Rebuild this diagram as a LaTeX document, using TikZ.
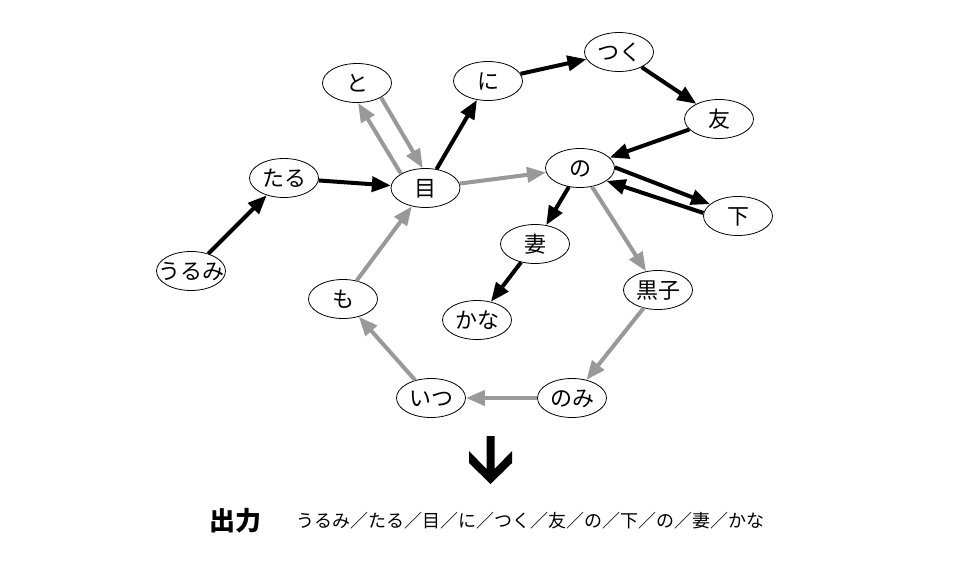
\documentclass[tikz,border=0pt]{standalone}
\usepackage{fontspec}
\usetikzlibrary{shapes.geometric,arrows.meta}
\newfontfamily\cjk{Noto Sans CJK JP}
\definecolor{edgegray}{RGB}{153,153,153}
\newcommand{\nodefnt}{\cjk\fontsize{22}{26}\selectfont}
\newcommand{\nt}[1]{\makebox[0pt]{#1}}
\tikzset{
  wnode/.style={draw, ellipse, line width=0.8pt, minimum width=69pt, minimum height=39pt,
    inner sep=0pt, font=\nodefnt, text height=19.4pt, text depth=2.6pt},
  bedge/.style={line width=4pt, black, -{Triangle[length=19pt,width=15pt]}},
  gedge/.style={line width=4pt, edgegray, -{Triangle[length=19pt,width=15pt]}},
}
\begin{document}
\begin{tikzpicture}[x=1pt,y=-1pt]
\path[use as bounding box] (0,0) rectangle (960,560);
\node[wnode] (urumi) at (191,271) {\nt{うるみ}};
\node[wnode] (taru) at (284,178) {\nt{たる}};
\node[wnode] (to) at (357,83) {\nt{と}};
\node[wnode] (me) at (425.5,188) {\nt{目}};
\node[wnode] (ni) at (488,81) {\nt{に}};
\node[wnode] (tsuku) at (619,52) {\nt{つく}};
\node[wnode] (tomo) at (719,119) {\nt{友}};
\node[wnode] (no) at (580,168) {\nt{の}};
\node[wnode] (shita) at (738,216) {\nt{下}};
\node[wnode] (tsuma) at (535,244) {\nt{妻}};
\node[wnode] (kana) at (477,320) {\nt{かな}};
\node[wnode] (hokuro) at (658,290) {\nt{黒子}};
\node[wnode] (nomi) at (572,398) {\nt{のみ}};
\node[wnode] (itsu) at (431,398) {\nt{いつ}};
\node[wnode] (mo) at (343,299) {\nt{も}};

\draw[bedge] (urumi) -- (taru);
\draw[bedge] (taru) -- (me);
\draw[gedge] (me.150.5) -- (to.-87);
\draw[gedge] (to.-31) -- (me.98.5);
\draw[bedge] (me) -- (ni);
\draw[bedge] (ni) -- (tsuku);
\draw[bedge] (tsuku) -- (tomo);
\draw[bedge] (tomo) -- (no);
\draw[gedge] (me) -- (no);
\draw[bedge] (no.1.6) -- (shita.157.7);
\draw[bedge] (shita.175) -- (no.-26.7);
\draw[bedge] (no) -- (tsuma);
\draw[bedge] (tsuma) -- (kana);
\draw[gedge] (no) -- (hokuro);
\draw[gedge] (hokuro) -- (nomi);
\draw[gedge] (nomi) -- (itsu);
\draw[gedge] (itsu) -- (mo);
\draw[gedge] (mo) -- (me);

\fill[black] (486.5,436) -- (494.5,436) -- (494.5,469) -- (512,451) -- (512,463)
  -- (490.5,484) -- (469,463) -- (469,451) -- (486.5,469) -- cycle;

\node[anchor=base, font=\cjk\bfseries\fontsize{26}{30}\selectfont, inner sep=0pt] (outlabel) at (235.5,530) {出力};
\node[anchor=base west, font=\cjk\fontsize{18}{22}\selectfont, inner sep=0pt] (outtext) at (296,527)
  {うるみ／たる／目／に／つく／友／の／下／の／妻／かな};
\end{tikzpicture}
\end{document}
